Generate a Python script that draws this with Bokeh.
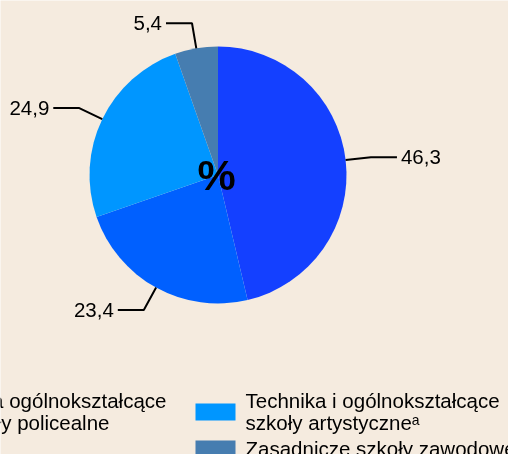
import math
from bokeh.plotting import figure
from bokeh.models import Range1d, ColumnDataSource
from bokeh.core.properties import value
from bokeh.embed import file_html
from bokeh.resources import INLINE

# ---- data ----
values = [46.3, 23.4, 24.9, 5.4]
value_labels = ["46,3", "23,4", "24,9", "5,4"]
slice_colors = ["#1440FF", "#0060FF", "#0096FF", "#467DB0"]
legend_lines = [
    ["Licea ogólnokształcące", "szkoły policealne"],
    ["Technika i ogólnokształcące", "szkoły artystyczne\u1d43"],
    ["Zasadnicze szkoły zawodowe"],
]
legend_slice = [1, 2, 3]
center_label = "%"

# ---- layout ----
W, H = 508, 454
BG = "#F5EBDF"
FONT = "Liberation Sans"
FS = "20.5px"

p = figure(width=W, height=H, x_range=Range1d(0, W), y_range=Range1d(0, H),
           output_backend="svg", toolbar_location=None, min_border=0,
           background_fill_color=BG, border_fill_color=BG, outline_line_color=None)
p.axis.visible = False
p.grid.visible = False
p.styles = {"position": "fixed", "left": "0px", "top": "0px"}


def Y(py):
    return H - py


cx, cy, R = 217.5, Y(174.5), 128.5
R_elbow, arm, gap = 154.0, 26.0, 4.0

total = sum(values)
starts, ends, mids = [], [], []
a = math.pi / 2
for v in values:
    sweep = 2 * math.pi * v / total
    starts.append(a - sweep)
    ends.append(a)
    mids.append(a - sweep / 2)
    a -= sweep

src = ColumnDataSource(dict(x=[cx] * len(values), y=[cy] * len(values),
                            s=starts, e=ends, c=slice_colors))
p.wedge(x="x", y="y", radius=R, start_angle="s", end_angle="e",
        fill_color="c", line_color=None, source=src)

xs, ys, tx, ty, ta = [], [], [], [], []
for m in mids:
    c, s = math.cos(m), math.sin(m)
    side = 1 if c > 0 else -1
    x0, y0 = cx + R * c, cy + R * s
    x1, y1 = cx + R_elbow * c, cy + R_elbow * s
    x2 = x1 + side * arm
    xs.append([x0, x1, x2])
    ys.append([y0, y1, y1])
    tx.append(x2 + side * gap)
    ty.append(y1)
    ta.append("left" if side > 0 else "right")

p.multi_line(xs=xs, ys=ys, line_color="black", line_width=2)
p.text(x=tx, y=ty, text=value_labels, text_align=ta, text_baseline="middle",
       text_font=value(FONT), text_font_size=FS, text_color="black")

p.text(x=[216], y=[Y(174)], text=[center_label], text_align="center",
       text_baseline="middle", text_font=value(FONT), text_font_size="43px",
       text_font_style="bold", text_color="black")

# ---- legend ----
col_of = [-1, 0, 0]
row_of = [0, 0, 1]
row_center = [411.5, 448.5]
sw_x0, col_w, sw_w, sw_h, txt_off, lh = 195, 291, 40, 17, 50, 22

ql, qr, qt, qb, qc = [], [], [], [], []
lx, ly, lt = [], [], []
for i, lines in enumerate(legend_lines):
    x0 = sw_x0 + col_of[i] * col_w
    yc = row_center[row_of[i]]
    ql.append(x0)
    qr.append(x0 + sw_w)
    qt.append(Y(yc - sw_h / 2))
    qb.append(Y(yc + sw_h / 2))
    qc.append(slice_colors[legend_slice[i]])
    n = len(lines)
    for j, t in enumerate(lines):
        lx.append(x0 + txt_off)
        ly.append(Y(yc - 1 - (n - 1) * lh / 2 + j * lh))
        lt.append(t)

p.quad(left=ql, right=qr, top=qt, bottom=qb, fill_color=qc, line_color=None)
p.text(x=lx, y=ly, text=lt, text_align="left", text_baseline="middle",
       text_font=value(FONT), text_font_size=FS, text_color="black")

open("out.html", "w").write(file_html(p, INLINE))
